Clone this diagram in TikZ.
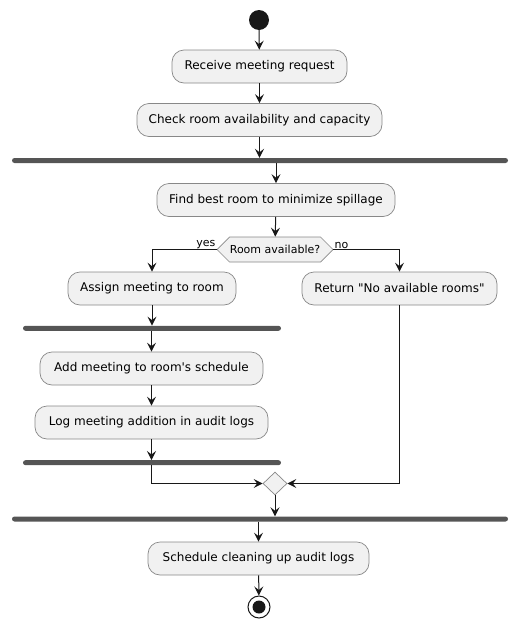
\documentclass[tikz,border=0pt]{standalone}
\usepackage{fontspec}
\setmainfont[Ligatures=TeXOff]{DejaVu Sans}
\usepackage{tikz}
\usetikzlibrary{arrows.meta,shapes.geometric,shapes.symbols}
\definecolor{actfill}{HTML}{F1F1F1}
\definecolor{actline}{HTML}{888888}
\definecolor{barfill}{HTML}{555555}
\definecolor{ink}{HTML}{181818}
\tikzset{
  font={\fontsize{12pt}{14}\selectfont},
  act/.style={draw=actline,fill=actfill,line width=0.7pt,rounded corners=12pt,minimum height=33pt},
  syncbar/.style={fill=barfill,rounded corners=2.5pt,minimum height=5pt},
  cond/.style={draw=actline,fill=actfill,line width=0.7pt,shape=signal,signal to=west and east,
    signal pointer angle=90,minimum height=25pt,font={\fontsize{11pt}{13}\selectfont}},
  merge/.style={draw=actline,fill=actfill,line width=0.7pt,shape=diamond,minimum width=24pt,minimum height=23pt},
  flow/.style={draw=ink,line width=1pt,-{Stealth[length=9pt,width=9pt,inset=3.5pt]}},
  lbl/.style={font={\fontsize{11pt}{13}\selectfont},inner sep=1pt}}

\begin{document}
\begin{tikzpicture}[x=1pt,y=1pt]
\tikzstyle{every node}+=[inner sep=0pt]
\useasboundingbox (0,0) rectangle (519,-627);
\node (start) [circle,fill=ink,minimum size=20pt] at (259,-20) {};
\node (receive) [act,minimum width=175pt] at (259.5,-66.5) {Receive meeting request};
\node (check) [act,minimum width=245pt] at (259.5,-120) {Check room availability and capacity};
\node (fork1) [syncbar,minimum width=496pt] at (260,-160.5) {};
\node (find) [act,minimum width=238pt] at (276,-200) {Find best room to minimize spillage};
\node (avail) [cond,minimum width=116pt] at (275,-249.5) {Room available?};
\node (assign) [act,minimum width=168pt] at (152,-288.5) {Assign meeting to room};
\node (nope) [act,minimum width=195pt] at (399.5,-288.5) {Return "No available rooms"};
\node (fork2) [syncbar,minimum width=258pt] at (152,-328.3) {};
\node (add) [act,minimum width=223pt] at (151.5,-368.5) {Add meeting to room's schedule};
\node (log) [act,minimum width=233pt] at (151.5,-422.5) {Log meeting addition in audit logs};
\node (join) [syncbar,minimum width=258pt] at (152,-462.7) {};
\node (mrg) [merge] at (275,-483.5) {};
\node (fork3) [syncbar,minimum width=496pt] at (260,-519) {};
\node (clean) [act,minimum width=221pt] at (258.5,-558.5) {Schedule cleaning up audit logs};
\node (stop) [circle,draw=ink,fill=white,line width=1pt,minimum size=22pt] at (259,-607) {};
\node (stopdot) [circle,fill=ink,minimum size=13pt] at (stop) {};
\draw [flow] (start) -- (receive);
\draw [flow] (receive) -- (check);
\draw [flow] (check.south) -- (check.south |- fork1.north);
\draw [flow] (fork1.south -| find.north) -- (find.north);
\draw [flow] (find) -- (avail);
\draw [flow] (avail.west) -| (assign.north);
\node [lbl,above left] at (avail.west) {yes};
\draw [flow] (avail.east) -| (nope.north);
\node [lbl,above right] at (avail.east) {no};
\draw [flow] (assign.south) -- (assign.south |- fork2.north);
\draw [flow] (fork2.south -| add.north) -- (add.north);
\draw [flow] (add) -- (log);
\draw [flow] (log.south) -- (log.south |- join.north);
\draw [flow] (join.south -| log.south) |- (mrg.west);
\draw [flow] (nope.south) |- (mrg.east);
\draw [flow] (mrg.south) -- (mrg.south |- fork3.north);
\draw [flow] (fork3.south -| clean.north) -- (clean.north);
\draw [flow] (clean) -- (stop);
\end{tikzpicture}
\end{document}
